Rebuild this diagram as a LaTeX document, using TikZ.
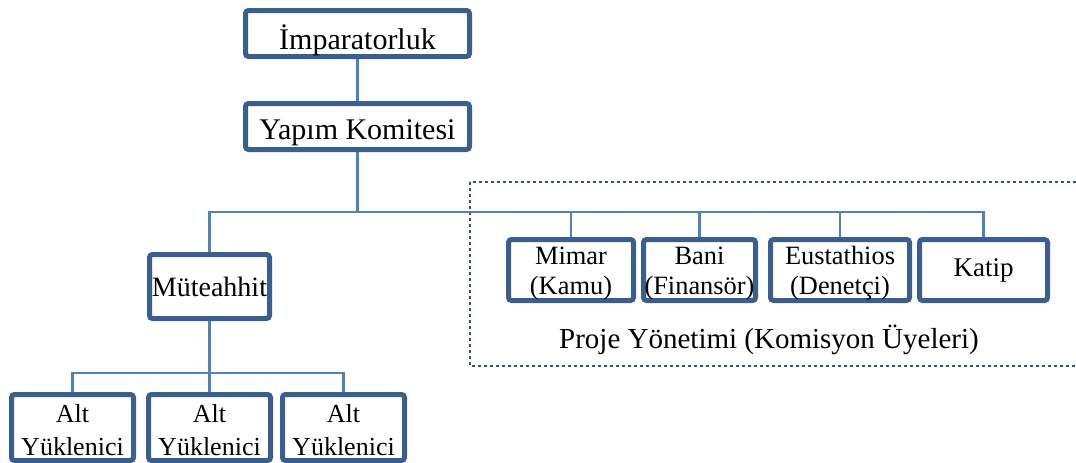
\documentclass[tikz,border=0pt]{standalone}
\usepackage{fontspec}
\setmainfont{Liberation Serif}
\definecolor{boxblue}{RGB}{58,94,142}
\definecolor{linkblue}{RGB}{79,129,189}
\definecolor{dotblue}{RGB}{47,82,143}
\newcommand{\dropped}[2]{\raisebox{-#1}[\height][\depth]{\begin{tabular}{@{}c@{}}#2\end{tabular}}}
\tikzset{
  unit/.style={draw=boxblue, line width=2.5pt, fill=white, rounded corners=1.5pt,
    inner sep=0pt, align=center, font=\fontsize{13.2}{15}\selectfont},
  topunit/.style={unit, minimum width=112pt, minimum height=23pt, font=\fontsize{15}{18}\selectfont},
  subunit/.style={unit, minimum width=61pt, minimum height=32pt, font=\fontsize{13}{16.5}\selectfont},
  member/.style={unit, minimum height=30.5pt},
  link/.style={draw=linkblue, line width=1.2pt},
  group/.style={draw=dotblue, line width=1.3pt, dash pattern=on 1.3pt off 1.7pt}
}
\begin{document}
\begin{tikzpicture}[x=0.5pt,y=-0.5pt]
        \useasboundingbox (0,0) rectangle (1076,462);
        \draw[group] (470,182) rectangle (1090,366);

        \node[topunit] (imp) at(357.5, 33.5){\dropped{4.5pt}{İmparatorluk}};
        \node[topunit] (yap) at(357.5, 126.5){\dropped{3pt}{Yapım Komitesi}};
        \node[unit, minimum width=60pt, minimum height=32pt, font=\fontsize{14}{16}\selectfont] (mut) at(209.5, 286.5){Müteahhit};

        \node[subunit] (alt1) at(72.5, 427.5){\dropped{2.2pt}{Alt\\Yüklenici}};
        \node[subunit] (alt2) at(209.5, 427.5){\dropped{2.2pt}{Alt\\Yüklenici}};
        \node[subunit] (alt3) at(343.5, 427.5){\dropped{2.2pt}{Alt\\Yüklenici}};

        \node[member, minimum width=62.5pt] (mimar) at(571, 270){\dropped{1.5pt}{Mimar\\(Kamu)}};
        \node[member, minimum width=56pt] (bani) at(699.5, 270){\dropped{1.5pt}{Bani\\(Finansör)}};
        \node[member, minimum width=69.5pt] (eust) at(840, 270){\dropped{1.5pt}{Eustathios\\(Denetçi)}};
        \node[member, minimum width=64pt, font=\fontsize{13.5}{15}\selectfont] (katip) at(983.5, 270){Katip};

        \node[font=\fontsize{14.5}{17}\selectfont] (pm) at(769, 340){Proje Yönetimi (Komisyon Üyeleri)};

        \coordinate (bus) at(357.5, 212);
        \coordinate (subbus) at(209.5, 373);

        \draw[link] (imp) -- (yap);
        \draw[link] (yap.south) -- (bus);
        \draw[link] (mut.north) |- (bus) -| (katip.north);
        \foreach \n in {mimar,bani,eust}
            \draw[link] (\n.north) -- (\n.north |- bus);
        \draw[link] (mut.south) -- (subbus);
        \draw[link] (alt1.north) |- (subbus) -| (alt3.north);
        \draw[link] (alt2.north) -- (subbus);
    \end{tikzpicture}
\end{document}
